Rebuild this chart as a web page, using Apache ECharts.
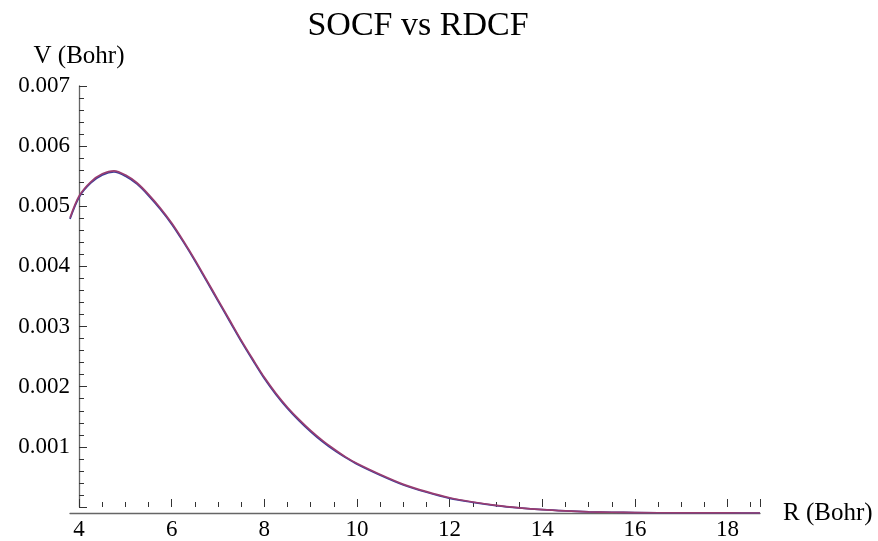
<!DOCTYPE html>
<html>
<head>
<meta charset="utf-8">
<script src="https://cdn.jsdelivr.net/npm/echarts@6/dist/echarts.min.js"></script>
<style>html,body{margin:0;padding:0;background:#fff;}#c{width:878px;height:541px;}</style>
</head>
<body>
<div id="c"></div>
<script>
var titleText = 'SOCF vs RDCF';
var xName = 'R (Bohr)';
var yName = 'V (Bohr)';
var R = [3.8, 4.0, 4.25, 4.5, 4.75, 5.0, 5.25, 5.5, 5.75, 6.0, 6.25, 6.5, 6.75, 7.0, 7.25, 7.5, 7.75, 8.0, 8.25, 8.5, 8.75, 9.0, 9.25, 9.5, 9.75, 10.0, 10.5, 11.0, 11.5, 12.0, 12.5, 13.0, 13.5, 14.0, 14.5, 15.0, 15.5, 16.0, 17.0, 18.0, 18.7];
var socf = [0.00482, 0.00518, 0.00541, 0.00554, 0.00559, 0.00552, 0.00539, 0.00520, 0.00498, 0.00473, 0.00444, 0.00413, 0.00380, 0.00347, 0.00314, 0.00281, 0.00250, 0.00220, 0.00194, 0.00171, 0.00151, 0.00133, 0.00117, 0.00103, 0.00091, 0.00080, 0.00062, 0.00046, 0.00034, 0.00024, 0.000175, 0.000122, 0.000083, 0.000054, 0.000034, 0.000020, 0.000012, 0.000007, 0.000002, 0.0000005, 0.0];
var rdcf = [0.00484, 0.00520, 0.00543, 0.00556, 0.00561, 0.00554, 0.00541, 0.00522, 0.00500, 0.00475, 0.00446, 0.00415, 0.00382, 0.00349, 0.00316, 0.00283, 0.00252, 0.00222, 0.00196, 0.00173, 0.00153, 0.00135, 0.00119, 0.00105, 0.00092, 0.00081, 0.00063, 0.00047, 0.00035, 0.00025, 0.000180, 0.000125, 0.000085, 0.000055, 0.000035, 0.000020, 0.000012, 0.000007, 0.000002, 0.0000005, 0.0];
var yTicks = ['0.001', '0.002', '0.003', '0.004', '0.005', '0.006', '0.007'];
var xTicks = ['4', '6', '8', '10', '12', '14', '16', '18'];

var FONT = 'Liberation Serif';
function pairs(xs, ys) { return xs.map(function (x, i) { return [x, ys[i]]; }); }

var chart = echarts.init(document.getElementById('c'), null, { renderer: 'canvas' });
chart.setOption({
  animation: false,
  backgroundColor: '#fff',
  title: {
    text: titleText, left: 413, top: 4, textAlign: 'center',
    textStyle: { fontFamily: FONT, fontSize: 34, fontWeight: 'normal', color: '#000' }
  },
  grid: [
    { left: 70, right: 118, top: 86, bottom: 28, containLabel: false },
    { left: 79, right: 118, top: 86, bottom: 28, containLabel: false }
  ],
  xAxis: [
    { type: 'value', gridIndex: 0, min: 3.8, max: 18.7,
      axisLine: { show: true, onZero: false, lineStyle: { color: '#666', width: 1.3 } },
      axisTick: { show: false }, axisLabel: { show: false }, splitLine: { show: false },
      name: xName, nameLocation: 'end', nameGap: 23,
      nameTextStyle: { fontFamily: FONT, fontSize: 25, color: '#000', verticalAlign: 'middle' } },
    { type: 'value', gridIndex: 1, min: 4, max: 18.7, interval: 2,
      axisLine: { show: false, onZero: false },
      axisTick: { show: true, inside: true, length: 8, lineStyle: { color: '#333', width: 1 } },
      minorTick: { show: true, splitNumber: 4, length: 5, lineStyle: { color: '#333', width: 1 } },
      axisLabel: { show: true, margin: 11, fontFamily: FONT, fontSize: 23, color: '#000',
        showMaxLabel: false,
        formatter: function (v) { var s = String(Math.round(v)); return xTicks.indexOf(s) >= 0 ? s : ''; } },
      splitLine: { show: false } }
  ],
  yAxis: [
    { type: 'value', gridIndex: 0, min: 0, max: 0.007, show: false },
    { type: 'value', gridIndex: 1, min: 0, max: 0.007, interval: 0.001,
      axisLine: { show: true, onZero: false, lineStyle: { color: '#666', width: 1.3 } },
      axisTick: { show: true, inside: true, length: 8, lineStyle: { color: '#333', width: 1 } },
      minorTick: { show: true, splitNumber: 5, length: 5, lineStyle: { color: '#333', width: 1 } },
      axisLabel: { show: true, margin: 9, fontFamily: FONT, fontSize: 23, color: '#000',
        formatter: function (v) { var s = v.toFixed(3); return yTicks.indexOf(s) >= 0 ? s : ''; } },
      splitLine: { show: false },
      name: yName, nameLocation: 'end', nameGap: 17,
      nameTextStyle: { fontFamily: FONT, fontSize: 25, color: '#000', align: 'center' } }
  ],
  series: [
    { name: 'SOCF', type: 'line', xAxisIndex: 0, yAxisIndex: 0, data: pairs(R, socf),
      showSymbol: false, smooth: 0.3, lineStyle: { color: '#3d3d99', width: 1.7 }, z: 3 },
    { name: 'RDCF', type: 'line', xAxisIndex: 0, yAxisIndex: 0, data: pairs(R, rdcf),
      showSymbol: false, smooth: 0.3, lineStyle: { color: '#993d71', width: 1.7 }, z: 4 }
  ]
});
</script>
</body>
</html>
